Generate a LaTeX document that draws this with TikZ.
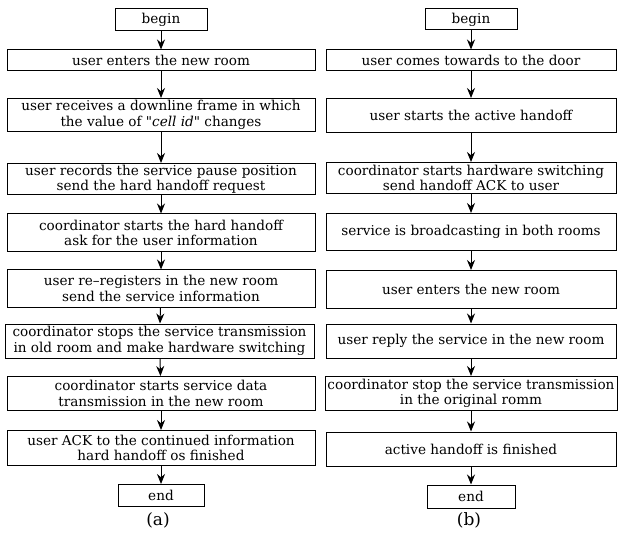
\documentclass[tikz,border=0pt]{standalone}
\usepackage{fontspec}
\setmainfont{DejaVu Serif}
\usetikzlibrary{arrows.meta}
\begin{document}
\begin{tikzpicture}[x=1pt, y=-1pt, every node/.style={draw, line width=1pt, align=center, inner sep=1pt, font=\fontsize{13.6}{15.5}\selectfont}, every path/.style={line width=1pt}, >={Stealth[length=10pt, width=8pt]}]

    \useasboundingbox (0,0) rectangle (618,537);

    % (a) hard handoff
    \node[minimum width=92, minimum height=22] (1) at (161,20) {begin};
    \node[minimum width=308, minimum height=21] (2) at (161,60.5) {user enters the new room};
    \node[minimum width=308, minimum height=33] (3) at (161,115) {user receives a downline frame in which\\the value of \textquotedbl\textit{cell id}\textquotedbl{} changes};
    \node[minimum width=308, minimum height=31] (4) at (161,179) {user records the service pause position\\send the hard handoff request};
    \node[minimum width=308, minimum height=38] (5) at (161,233) {coordinator starts the hard handoff\\ask for the user information};
    \node[minimum width=308, minimum height=37] (6) at (161,288.5) {user re--registers in the new room\\send the service information};
    \node[minimum width=309, minimum height=34] (7) at (159.5,341) {coordinator stops the service transmission\\in old room and make hardware switching};
    \node[minimum width=308, minimum height=34] (8) at (161,393.5) {coordinator starts service data\\transmission in the new room};
    \node[minimum width=308, minimum height=35] (9) at (161,448) {user ACK to the continued information\\hard handoff os finished};
    \node[minimum width=86, minimum height=22] (10) at (161,495.5) {end};
    \node[draw=none, font=\fontsize{17}{19}\selectfont] (11) at (158,520) {(a)};

    % (b) active handoff
    \node[minimum width=92, minimum height=21] (12) at (471,19.5) {begin};
    \node[minimum width=290, minimum height=21] (13) at (471,60.5) {user comes towards to the door};
    \node[minimum width=290, minimum height=34] (14) at (471,115.5) {user starts the active handoff};
    \node[minimum width=290, minimum height=31] (15) at (471,178) {coordinator starts hardware switching\\send handoff ACK to user};
    \node[minimum width=290, minimum height=37] (16) at (471,232) {service is broadcasting in both rooms};
    \node[minimum width=290, minimum height=38] (17) at (471,289.5) {user enters the new room};
    \node[minimum width=290, minimum height=34] (18) at (471,341) {user reply the service in the new room};
    \node[minimum width=292, minimum height=34] (19) at (471,393.5) {coordinator stop the service transmission\\in the original romm};
    \node[minimum width=290, minimum height=34] (20) at (471,449) {active handoff is finished};
    \node[minimum width=88, minimum height=23] (21) at (471,496.5) {end};
    \node[draw=none, font=\fontsize{17}{19}\selectfont] (22) at (469,520) {(b)};

    \draw[->] (1) -- (2);
    \draw[->] (2) -- (3);
    \draw[->] (3) -- (4);
    \draw[->] (4) -- (5);
    \draw[->] (5) -- (6);
    \draw[->] (6) -- (7);
    \draw[->] (7) -- (8);
    \draw[->] (8) -- (9);
    \draw[->] (9) -- (10);

    \draw[->] (12) -- (13);
    \draw[->] (13) -- (14);
    \draw[->] (14) -- (15);
    \draw[->] (15) -- (16);
    \draw[->] (16) -- (17);
    \draw[->] (17) -- (18);
    \draw[->] (18) -- (19);
    \draw[->] (19) -- (20);
    \draw[->] (20) -- (21);

\end{tikzpicture}
\end{document}
